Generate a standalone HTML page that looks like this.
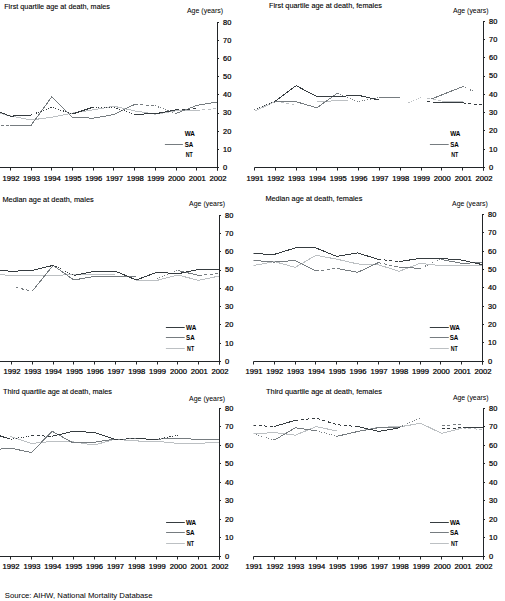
<!DOCTYPE html>
<html><head><meta charset="utf-8"><style>
html,body{margin:0;padding:0;background:#fff;}
svg{display:block;}
text{font-family:"Liberation Sans", sans-serif;}
</style></head><body>
<svg width="505" height="601" viewBox="0 0 505 601">
<defs><clipPath id="clip0"><rect x="0" y="12.399999999999999" width="217.5" height="155.1"/></clipPath><clipPath id="clip1"><rect x="254.5" y="11.399999999999999" width="229.0" height="156.1"/></clipPath><clipPath id="clip2"><rect x="0" y="205.3" width="219.5" height="156.2"/></clipPath><clipPath id="clip3"><rect x="253.5" y="204.6" width="229.0" height="156.70000000000002"/></clipPath><clipPath id="clip4"><rect x="0" y="398.4" width="219.5" height="158.0"/></clipPath><clipPath id="clip5"><rect x="253.5" y="398.3" width="230.0" height="157.99999999999994"/></clipPath></defs>
<rect width="505" height="601" fill="#fff"/>
<g clip-path="url(#clip0)">
<polyline points="-10.31,110.73 10.40,115.99 31.11,119.98 51.82,117.26 72.53,113.09 93.24,109.82 113.95,106.20 134.66,110.91 155.37,114.18 176.08,110.91 196.79,110.37" fill="none" stroke="#bcc0c3" stroke-width="1.0" shape-rendering="crispEdges"/>
<polyline points="196.79,110.37 217.50,108.55" fill="none" stroke="#bcc0c3" stroke-width="1.0" stroke-dasharray="3 2.5" shape-rendering="crispEdges"/>
<polyline points="-10.31,125.24 10.40,125.24" fill="none" stroke="#767c80" stroke-width="1.0" stroke-dasharray="3 2.5" shape-rendering="crispEdges"/>
<polyline points="10.40,125.24 31.11,125.24 51.82,96.76 72.53,117.44 93.24,118.17 113.95,114.54 134.66,104.38" fill="none" stroke="#767c80" stroke-width="1.0" shape-rendering="crispEdges"/>
<polyline points="134.66,104.38 155.37,105.83" fill="none" stroke="#767c80" stroke-width="1.0" stroke-dasharray="3 2.5" shape-rendering="crispEdges"/>
<polyline points="155.37,105.83 176.08,113.45" fill="none" stroke="#767c80" stroke-width="1.0" stroke-dasharray="1 1.6" shape-rendering="crispEdges"/>
<polyline points="176.08,113.45 196.79,105.47 217.50,101.84" fill="none" stroke="#767c80" stroke-width="1.0" shape-rendering="crispEdges"/>
<polyline points="-10.31,108.37 10.40,116.17 31.11,115.08" fill="none" stroke="#363c40" stroke-width="1.0" shape-rendering="crispEdges"/>
<polyline points="31.11,115.08 51.82,107.10 72.53,113.99" fill="none" stroke="#363c40" stroke-width="1.0" stroke-dasharray="1 1.6" shape-rendering="crispEdges"/>
<polyline points="72.53,113.99 93.24,107.10" fill="none" stroke="#363c40" stroke-width="1.0" shape-rendering="crispEdges"/>
<polyline points="93.24,107.10 113.95,107.65 134.66,114.18" fill="none" stroke="#363c40" stroke-width="1.0" stroke-dasharray="1 1.6" shape-rendering="crispEdges"/>
<polyline points="134.66,114.18 155.37,113.81 176.08,109.82" fill="none" stroke="#363c40" stroke-width="1.0" shape-rendering="crispEdges"/>
<polyline points="176.08,109.82 196.79,108.73" fill="none" stroke="#363c40" stroke-width="1.0" stroke-dasharray="3 2.5" shape-rendering="crispEdges"/>
</g>
<path d="M0.0,167.5 H217.5 M217.5,22.0 V170.5" stroke="#222528" stroke-width="1" fill="none"/>
<path d="M217.5,167.5 H219.0" stroke="#222528" stroke-width="1"/>
<path d="M217.5,149.5 H219.0" stroke="#222528" stroke-width="1"/>
<path d="M217.5,131.5 H219.0" stroke="#222528" stroke-width="1"/>
<path d="M217.5,113.5 H219.0" stroke="#222528" stroke-width="1"/>
<path d="M217.5,94.5 H219.0" stroke="#222528" stroke-width="1"/>
<path d="M217.5,76.5 H219.0" stroke="#222528" stroke-width="1"/>
<path d="M217.5,58.5 H219.0" stroke="#222528" stroke-width="1"/>
<path d="M217.5,40.5 H219.0" stroke="#222528" stroke-width="1"/>
<path d="M217.5,22.5 H219.0" stroke="#222528" stroke-width="1"/>
<path d="M10.5,167.5 V170.5" stroke="#222528" stroke-width="1"/>
<path d="M31.5,167.5 V170.5" stroke="#222528" stroke-width="1"/>
<path d="M51.5,167.5 V170.5" stroke="#222528" stroke-width="1"/>
<path d="M72.5,167.5 V170.5" stroke="#222528" stroke-width="1"/>
<path d="M93.5,167.5 V170.5" stroke="#222528" stroke-width="1"/>
<path d="M113.5,167.5 V170.5" stroke="#222528" stroke-width="1"/>
<path d="M134.5,167.5 V170.5" stroke="#222528" stroke-width="1"/>
<path d="M155.5,167.5 V170.5" stroke="#222528" stroke-width="1"/>
<path d="M176.5,167.5 V170.5" stroke="#222528" stroke-width="1"/>
<path d="M196.5,167.5 V170.5" stroke="#222528" stroke-width="1"/>
<path d="M217.5,167.5 V170.5" stroke="#222528" stroke-width="1"/>
<text x="223.10" y="169.80" font-size="7.0" font-weight="normal" fill="#000" stroke="#000" stroke-width="0.22" textLength="4.20" lengthAdjust="spacingAndGlyphs">0</text>
<text x="223.10" y="151.66" font-size="7.0" font-weight="normal" fill="#000" stroke="#000" stroke-width="0.22" textLength="8.20" lengthAdjust="spacingAndGlyphs">10</text>
<text x="223.10" y="133.53" font-size="7.0" font-weight="normal" fill="#000" stroke="#000" stroke-width="0.22" textLength="8.20" lengthAdjust="spacingAndGlyphs">20</text>
<text x="223.10" y="115.39" font-size="7.0" font-weight="normal" fill="#000" stroke="#000" stroke-width="0.22" textLength="8.20" lengthAdjust="spacingAndGlyphs">30</text>
<text x="223.10" y="97.25" font-size="7.0" font-weight="normal" fill="#000" stroke="#000" stroke-width="0.22" textLength="8.20" lengthAdjust="spacingAndGlyphs">40</text>
<text x="223.10" y="79.11" font-size="7.0" font-weight="normal" fill="#000" stroke="#000" stroke-width="0.22" textLength="8.20" lengthAdjust="spacingAndGlyphs">50</text>
<text x="223.10" y="60.97" font-size="7.0" font-weight="normal" fill="#000" stroke="#000" stroke-width="0.22" textLength="8.20" lengthAdjust="spacingAndGlyphs">60</text>
<text x="223.10" y="42.84" font-size="7.0" font-weight="normal" fill="#000" stroke="#000" stroke-width="0.22" textLength="8.20" lengthAdjust="spacingAndGlyphs">70</text>
<text x="223.10" y="24.70" font-size="7.0" font-weight="normal" fill="#000" stroke="#000" stroke-width="0.22" textLength="8.20" lengthAdjust="spacingAndGlyphs">80</text>
<text x="2.40" y="180.70" font-size="7.0" font-weight="normal" fill="#000" stroke="#000" stroke-width="0.22" textLength="17.00" lengthAdjust="spacingAndGlyphs">1992</text>
<text x="23.11" y="180.70" font-size="7.0" font-weight="normal" fill="#000" stroke="#000" stroke-width="0.22" textLength="17.00" lengthAdjust="spacingAndGlyphs">1993</text>
<text x="43.82" y="180.70" font-size="7.0" font-weight="normal" fill="#000" stroke="#000" stroke-width="0.22" textLength="17.00" lengthAdjust="spacingAndGlyphs">1994</text>
<text x="64.53" y="180.70" font-size="7.0" font-weight="normal" fill="#000" stroke="#000" stroke-width="0.22" textLength="17.00" lengthAdjust="spacingAndGlyphs">1995</text>
<text x="85.24" y="180.70" font-size="7.0" font-weight="normal" fill="#000" stroke="#000" stroke-width="0.22" textLength="17.00" lengthAdjust="spacingAndGlyphs">1996</text>
<text x="105.95" y="180.70" font-size="7.0" font-weight="normal" fill="#000" stroke="#000" stroke-width="0.22" textLength="17.00" lengthAdjust="spacingAndGlyphs">1997</text>
<text x="126.66" y="180.70" font-size="7.0" font-weight="normal" fill="#000" stroke="#000" stroke-width="0.22" textLength="17.00" lengthAdjust="spacingAndGlyphs">1998</text>
<text x="147.37" y="180.70" font-size="7.0" font-weight="normal" fill="#000" stroke="#000" stroke-width="0.22" textLength="17.00" lengthAdjust="spacingAndGlyphs">1999</text>
<text x="168.08" y="180.70" font-size="7.0" font-weight="normal" fill="#000" stroke="#000" stroke-width="0.22" textLength="17.00" lengthAdjust="spacingAndGlyphs">2000</text>
<text x="188.79" y="180.70" font-size="7.0" font-weight="normal" fill="#000" stroke="#000" stroke-width="0.22" textLength="17.00" lengthAdjust="spacingAndGlyphs">2001</text>
<text x="209.50" y="180.70" font-size="7.0" font-weight="normal" fill="#000" stroke="#000" stroke-width="0.22" textLength="17.00" lengthAdjust="spacingAndGlyphs">2002</text>
<text x="186.90" y="13.40" font-size="6.8" font-weight="normal" fill="#000" textLength="36.20" lengthAdjust="spacingAndGlyphs">Age (years)</text>
<text x="4.20" y="8.90" font-size="7.0" font-weight="normal" fill="#000" stroke="#000" stroke-width="0.1" textLength="105.80" lengthAdjust="spacingAndGlyphs">First quartile age at death, males</text>
<text x="184.70" y="136.10" font-size="7.0" font-weight="bold" fill="#000" textLength="10.20" lengthAdjust="spacingAndGlyphs">WA</text>
<path d="M164.9,144.5 H182.9" stroke="#767c80" stroke-width="1"/>
<text x="184.70" y="146.80" font-size="7.0" font-weight="bold" fill="#000" textLength="8.60" lengthAdjust="spacingAndGlyphs">SA</text>
<text x="185.70" y="156.80" font-size="7.0" font-weight="bold" fill="#000" textLength="7.00" lengthAdjust="spacingAndGlyphs">NT</text>
<g clip-path="url(#clip1)">
<polyline points="254.50,111.25 275.32,101.39" fill="none" stroke="#bcc0c3" stroke-width="1.0" shape-rendering="crispEdges"/>
<polyline points="275.32,101.39 296.14,105.41" fill="none" stroke="#bcc0c3" stroke-width="1.0" stroke-dasharray="3 2.5" shape-rendering="crispEdges"/>
<polyline points="316.95,101.75 337.77,100.66 348.18,100.66" fill="none" stroke="#bcc0c3" stroke-width="1.0" shape-rendering="crispEdges"/>
<polyline points="408.55,102.67 421.05,97.74" fill="none" stroke="#bcc0c3" stroke-width="1.0" stroke-dasharray="1 1.6" shape-rendering="crispEdges"/>
<polyline points="427.29,98.10 441.86,101.02" fill="none" stroke="#bcc0c3" stroke-width="1.0" stroke-dasharray="3 2.5" shape-rendering="crispEdges"/>
<polyline points="441.86,101.02 462.68,101.02" fill="none" stroke="#bcc0c3" stroke-width="1.0" shape-rendering="crispEdges"/>
<polyline points="254.50,109.79 275.32,101.75" fill="none" stroke="#767c80" stroke-width="1.0" stroke-dasharray="1 1.6" shape-rendering="crispEdges"/>
<polyline points="275.32,101.75 296.14,101.75 316.95,107.78 337.77,92.99" fill="none" stroke="#767c80" stroke-width="1.0" shape-rendering="crispEdges"/>
<polyline points="337.77,92.99 358.59,101.75 379.41,97.37" fill="none" stroke="#767c80" stroke-width="1.0" stroke-dasharray="1 1.6" shape-rendering="crispEdges"/>
<polyline points="379.41,97.37 400.23,97.01" fill="none" stroke="#767c80" stroke-width="1.0" shape-rendering="crispEdges"/>
<polyline points="431.45,99.02 462.68,86.60" fill="none" stroke="#767c80" stroke-width="1.0" shape-rendering="crispEdges"/>
<polyline points="462.68,86.60 477.25,92.99" fill="none" stroke="#767c80" stroke-width="1.0" stroke-dasharray="1 1.6" shape-rendering="crispEdges"/>
<polyline points="254.50,109.79 275.32,101.02" fill="none" stroke="#363c40" stroke-width="1.0" stroke-dasharray="1 1.6" shape-rendering="crispEdges"/>
<polyline points="275.32,101.02 296.14,85.68 316.95,96.64 337.77,96.46 358.59,95.36 379.41,100.11" fill="none" stroke="#363c40" stroke-width="1.0" shape-rendering="crispEdges"/>
<polyline points="427.29,101.02 433.54,102.85" fill="none" stroke="#363c40" stroke-width="1.0" stroke-dasharray="3 2.5" shape-rendering="crispEdges"/>
<polyline points="433.54,102.85 462.68,102.85" fill="none" stroke="#363c40" stroke-width="1.0" shape-rendering="crispEdges"/>
<polyline points="462.68,102.85 483.50,105.04" fill="none" stroke="#363c40" stroke-width="1.0" stroke-dasharray="3 2.5" shape-rendering="crispEdges"/>
</g>
<path d="M254.5,167.5 H483.5 M483.5,21.0 V170.5" stroke="#222528" stroke-width="1" fill="none"/>
<path d="M483.5,167.5 H485.0" stroke="#222528" stroke-width="1"/>
<path d="M483.5,149.5 H485.0" stroke="#222528" stroke-width="1"/>
<path d="M483.5,130.5 H485.0" stroke="#222528" stroke-width="1"/>
<path d="M483.5,112.5 H485.0" stroke="#222528" stroke-width="1"/>
<path d="M483.5,94.5 H485.0" stroke="#222528" stroke-width="1"/>
<path d="M483.5,76.5 H485.0" stroke="#222528" stroke-width="1"/>
<path d="M483.5,57.5 H485.0" stroke="#222528" stroke-width="1"/>
<path d="M483.5,39.5 H485.0" stroke="#222528" stroke-width="1"/>
<path d="M483.5,21.5 H485.0" stroke="#222528" stroke-width="1"/>
<path d="M254.5,167.5 V170.5" stroke="#222528" stroke-width="1"/>
<path d="M275.5,167.5 V170.5" stroke="#222528" stroke-width="1"/>
<path d="M296.5,167.5 V170.5" stroke="#222528" stroke-width="1"/>
<path d="M316.5,167.5 V170.5" stroke="#222528" stroke-width="1"/>
<path d="M337.5,167.5 V170.5" stroke="#222528" stroke-width="1"/>
<path d="M358.5,167.5 V170.5" stroke="#222528" stroke-width="1"/>
<path d="M379.5,167.5 V170.5" stroke="#222528" stroke-width="1"/>
<path d="M400.5,167.5 V170.5" stroke="#222528" stroke-width="1"/>
<path d="M421.5,167.5 V170.5" stroke="#222528" stroke-width="1"/>
<path d="M441.5,167.5 V170.5" stroke="#222528" stroke-width="1"/>
<path d="M462.5,167.5 V170.5" stroke="#222528" stroke-width="1"/>
<path d="M483.5,167.5 V170.5" stroke="#222528" stroke-width="1"/>
<text x="489.10" y="169.80" font-size="7.0" font-weight="normal" fill="#000" stroke="#000" stroke-width="0.22" textLength="4.20" lengthAdjust="spacingAndGlyphs">0</text>
<text x="489.10" y="151.54" font-size="7.0" font-weight="normal" fill="#000" stroke="#000" stroke-width="0.22" textLength="8.20" lengthAdjust="spacingAndGlyphs">10</text>
<text x="489.10" y="133.28" font-size="7.0" font-weight="normal" fill="#000" stroke="#000" stroke-width="0.22" textLength="8.20" lengthAdjust="spacingAndGlyphs">20</text>
<text x="489.10" y="115.01" font-size="7.0" font-weight="normal" fill="#000" stroke="#000" stroke-width="0.22" textLength="8.20" lengthAdjust="spacingAndGlyphs">30</text>
<text x="489.10" y="96.75" font-size="7.0" font-weight="normal" fill="#000" stroke="#000" stroke-width="0.22" textLength="8.20" lengthAdjust="spacingAndGlyphs">40</text>
<text x="489.10" y="78.49" font-size="7.0" font-weight="normal" fill="#000" stroke="#000" stroke-width="0.22" textLength="8.20" lengthAdjust="spacingAndGlyphs">50</text>
<text x="489.10" y="60.23" font-size="7.0" font-weight="normal" fill="#000" stroke="#000" stroke-width="0.22" textLength="8.20" lengthAdjust="spacingAndGlyphs">60</text>
<text x="489.10" y="41.96" font-size="7.0" font-weight="normal" fill="#000" stroke="#000" stroke-width="0.22" textLength="8.20" lengthAdjust="spacingAndGlyphs">70</text>
<text x="489.10" y="23.70" font-size="7.0" font-weight="normal" fill="#000" stroke="#000" stroke-width="0.22" textLength="8.20" lengthAdjust="spacingAndGlyphs">80</text>
<text x="246.50" y="180.70" font-size="7.0" font-weight="normal" fill="#000" stroke="#000" stroke-width="0.22" textLength="17.00" lengthAdjust="spacingAndGlyphs">1991</text>
<text x="267.32" y="180.70" font-size="7.0" font-weight="normal" fill="#000" stroke="#000" stroke-width="0.22" textLength="17.00" lengthAdjust="spacingAndGlyphs">1992</text>
<text x="288.14" y="180.70" font-size="7.0" font-weight="normal" fill="#000" stroke="#000" stroke-width="0.22" textLength="17.00" lengthAdjust="spacingAndGlyphs">1993</text>
<text x="308.95" y="180.70" font-size="7.0" font-weight="normal" fill="#000" stroke="#000" stroke-width="0.22" textLength="17.00" lengthAdjust="spacingAndGlyphs">1994</text>
<text x="329.77" y="180.70" font-size="7.0" font-weight="normal" fill="#000" stroke="#000" stroke-width="0.22" textLength="17.00" lengthAdjust="spacingAndGlyphs">1995</text>
<text x="350.59" y="180.70" font-size="7.0" font-weight="normal" fill="#000" stroke="#000" stroke-width="0.22" textLength="17.00" lengthAdjust="spacingAndGlyphs">1996</text>
<text x="371.41" y="180.70" font-size="7.0" font-weight="normal" fill="#000" stroke="#000" stroke-width="0.22" textLength="17.00" lengthAdjust="spacingAndGlyphs">1997</text>
<text x="392.23" y="180.70" font-size="7.0" font-weight="normal" fill="#000" stroke="#000" stroke-width="0.22" textLength="17.00" lengthAdjust="spacingAndGlyphs">1998</text>
<text x="413.05" y="180.70" font-size="7.0" font-weight="normal" fill="#000" stroke="#000" stroke-width="0.22" textLength="17.00" lengthAdjust="spacingAndGlyphs">1999</text>
<text x="433.86" y="180.70" font-size="7.0" font-weight="normal" fill="#000" stroke="#000" stroke-width="0.22" textLength="17.00" lengthAdjust="spacingAndGlyphs">2000</text>
<text x="454.68" y="180.70" font-size="7.0" font-weight="normal" fill="#000" stroke="#000" stroke-width="0.22" textLength="17.00" lengthAdjust="spacingAndGlyphs">2001</text>
<text x="475.50" y="180.70" font-size="7.0" font-weight="normal" fill="#000" stroke="#000" stroke-width="0.22" textLength="17.00" lengthAdjust="spacingAndGlyphs">2002</text>
<text x="452.90" y="12.90" font-size="6.8" font-weight="normal" fill="#000" textLength="35.70" lengthAdjust="spacingAndGlyphs">Age (years)</text>
<text x="269.00" y="8.20" font-size="7.0" font-weight="normal" fill="#000" stroke="#000" stroke-width="0.1" textLength="113.00" lengthAdjust="spacingAndGlyphs">First quartile age at death, females</text>
<text x="450.20" y="136.10" font-size="7.0" font-weight="bold" fill="#000" textLength="10.20" lengthAdjust="spacingAndGlyphs">WA</text>
<path d="M429.9,144.5 H448.7" stroke="#767c80" stroke-width="1"/>
<text x="450.20" y="146.80" font-size="7.0" font-weight="bold" fill="#000" textLength="8.60" lengthAdjust="spacingAndGlyphs">SA</text>
<text x="451.20" y="156.90" font-size="7.0" font-weight="bold" fill="#000" textLength="7.00" lengthAdjust="spacingAndGlyphs">NT</text>
<g clip-path="url(#clip2)">
<polyline points="-9.30,272.87 11.50,275.97 32.30,275.79 53.10,275.61 73.90,274.33 94.70,274.88 115.50,274.33" fill="none" stroke="#bcc0c3" stroke-width="1.0" shape-rendering="crispEdges"/>
<polyline points="136.30,280.36 157.10,280.36 177.90,275.06 198.70,280.36 219.50,275.97" fill="none" stroke="#bcc0c3" stroke-width="1.0" shape-rendering="crispEdges"/>
<polyline points="15.66,287.49 32.30,291.14" fill="none" stroke="#767c80" stroke-width="1.0" stroke-dasharray="3 2.5" shape-rendering="crispEdges"/>
<polyline points="32.30,291.14 53.10,265.37 73.90,279.99 94.70,276.34 115.50,276.16 136.30,276.16" fill="none" stroke="#767c80" stroke-width="1.0" shape-rendering="crispEdges"/>
<polyline points="157.10,278.90 177.90,270.49" fill="none" stroke="#767c80" stroke-width="1.0" stroke-dasharray="1 1.6" shape-rendering="crispEdges"/>
<polyline points="177.90,270.49 198.70,275.42" fill="none" stroke="#767c80" stroke-width="1.0" shape-rendering="crispEdges"/>
<polyline points="198.70,275.42 219.50,273.60" fill="none" stroke="#767c80" stroke-width="1.0" stroke-dasharray="3 2.5" shape-rendering="crispEdges"/>
<polyline points="-9.30,269.94 11.50,271.22 32.30,270.49 53.10,265.37" fill="none" stroke="#363c40" stroke-width="1.0" shape-rendering="crispEdges"/>
<polyline points="53.10,265.37 73.90,275.42" fill="none" stroke="#363c40" stroke-width="1.0" stroke-dasharray="1 1.6" shape-rendering="crispEdges"/>
<polyline points="73.90,275.42 94.70,271.22 115.50,271.22 136.30,279.99 157.10,272.14 177.90,273.78 198.70,269.39 219.50,269.39" fill="none" stroke="#363c40" stroke-width="1.0" shape-rendering="crispEdges"/>
</g>
<path d="M0.0,361.5 H219.5 M219.5,215.0 V364.5" stroke="#222528" stroke-width="1" fill="none"/>
<path d="M219.5,361.5 H221.0" stroke="#222528" stroke-width="1"/>
<path d="M219.5,343.5 H221.0" stroke="#222528" stroke-width="1"/>
<path d="M219.5,324.5 H221.0" stroke="#222528" stroke-width="1"/>
<path d="M219.5,306.5 H221.0" stroke="#222528" stroke-width="1"/>
<path d="M219.5,288.5 H221.0" stroke="#222528" stroke-width="1"/>
<path d="M219.5,270.5 H221.0" stroke="#222528" stroke-width="1"/>
<path d="M219.5,251.5 H221.0" stroke="#222528" stroke-width="1"/>
<path d="M219.5,233.5 H221.0" stroke="#222528" stroke-width="1"/>
<path d="M219.5,215.5 H221.0" stroke="#222528" stroke-width="1"/>
<path d="M11.5,361.5 V364.5" stroke="#222528" stroke-width="1"/>
<path d="M32.5,361.5 V364.5" stroke="#222528" stroke-width="1"/>
<path d="M53.5,361.5 V364.5" stroke="#222528" stroke-width="1"/>
<path d="M73.5,361.5 V364.5" stroke="#222528" stroke-width="1"/>
<path d="M94.5,361.5 V364.5" stroke="#222528" stroke-width="1"/>
<path d="M115.5,361.5 V364.5" stroke="#222528" stroke-width="1"/>
<path d="M136.5,361.5 V364.5" stroke="#222528" stroke-width="1"/>
<path d="M157.5,361.5 V364.5" stroke="#222528" stroke-width="1"/>
<path d="M177.5,361.5 V364.5" stroke="#222528" stroke-width="1"/>
<path d="M198.5,361.5 V364.5" stroke="#222528" stroke-width="1"/>
<path d="M219.5,361.5 V364.5" stroke="#222528" stroke-width="1"/>
<text x="225.10" y="363.80" font-size="7.0" font-weight="normal" fill="#000" stroke="#000" stroke-width="0.22" textLength="4.20" lengthAdjust="spacingAndGlyphs">0</text>
<text x="225.10" y="345.53" font-size="7.0" font-weight="normal" fill="#000" stroke="#000" stroke-width="0.22" textLength="8.20" lengthAdjust="spacingAndGlyphs">10</text>
<text x="225.10" y="327.25" font-size="7.0" font-weight="normal" fill="#000" stroke="#000" stroke-width="0.22" textLength="8.20" lengthAdjust="spacingAndGlyphs">20</text>
<text x="225.10" y="308.98" font-size="7.0" font-weight="normal" fill="#000" stroke="#000" stroke-width="0.22" textLength="8.20" lengthAdjust="spacingAndGlyphs">30</text>
<text x="225.10" y="290.70" font-size="7.0" font-weight="normal" fill="#000" stroke="#000" stroke-width="0.22" textLength="8.20" lengthAdjust="spacingAndGlyphs">40</text>
<text x="225.10" y="272.43" font-size="7.0" font-weight="normal" fill="#000" stroke="#000" stroke-width="0.22" textLength="8.20" lengthAdjust="spacingAndGlyphs">50</text>
<text x="225.10" y="254.15" font-size="7.0" font-weight="normal" fill="#000" stroke="#000" stroke-width="0.22" textLength="8.20" lengthAdjust="spacingAndGlyphs">60</text>
<text x="225.10" y="235.88" font-size="7.0" font-weight="normal" fill="#000" stroke="#000" stroke-width="0.22" textLength="8.20" lengthAdjust="spacingAndGlyphs">70</text>
<text x="225.10" y="217.60" font-size="7.0" font-weight="normal" fill="#000" stroke="#000" stroke-width="0.22" textLength="8.20" lengthAdjust="spacingAndGlyphs">80</text>
<text x="3.50" y="374.00" font-size="7.0" font-weight="normal" fill="#000" stroke="#000" stroke-width="0.22" textLength="17.00" lengthAdjust="spacingAndGlyphs">1992</text>
<text x="24.30" y="374.00" font-size="7.0" font-weight="normal" fill="#000" stroke="#000" stroke-width="0.22" textLength="17.00" lengthAdjust="spacingAndGlyphs">1993</text>
<text x="45.10" y="374.00" font-size="7.0" font-weight="normal" fill="#000" stroke="#000" stroke-width="0.22" textLength="17.00" lengthAdjust="spacingAndGlyphs">1994</text>
<text x="65.90" y="374.00" font-size="7.0" font-weight="normal" fill="#000" stroke="#000" stroke-width="0.22" textLength="17.00" lengthAdjust="spacingAndGlyphs">1995</text>
<text x="86.70" y="374.00" font-size="7.0" font-weight="normal" fill="#000" stroke="#000" stroke-width="0.22" textLength="17.00" lengthAdjust="spacingAndGlyphs">1996</text>
<text x="107.50" y="374.00" font-size="7.0" font-weight="normal" fill="#000" stroke="#000" stroke-width="0.22" textLength="17.00" lengthAdjust="spacingAndGlyphs">1997</text>
<text x="128.30" y="374.00" font-size="7.0" font-weight="normal" fill="#000" stroke="#000" stroke-width="0.22" textLength="17.00" lengthAdjust="spacingAndGlyphs">1998</text>
<text x="149.10" y="374.00" font-size="7.0" font-weight="normal" fill="#000" stroke="#000" stroke-width="0.22" textLength="17.00" lengthAdjust="spacingAndGlyphs">1999</text>
<text x="169.90" y="374.00" font-size="7.0" font-weight="normal" fill="#000" stroke="#000" stroke-width="0.22" textLength="17.00" lengthAdjust="spacingAndGlyphs">2000</text>
<text x="190.70" y="374.00" font-size="7.0" font-weight="normal" fill="#000" stroke="#000" stroke-width="0.22" textLength="17.00" lengthAdjust="spacingAndGlyphs">2001</text>
<text x="211.50" y="374.00" font-size="7.0" font-weight="normal" fill="#000" stroke="#000" stroke-width="0.22" textLength="17.00" lengthAdjust="spacingAndGlyphs">2002</text>
<text x="189.10" y="205.90" font-size="6.8" font-weight="normal" fill="#000" textLength="35.90" lengthAdjust="spacingAndGlyphs">Age (years)</text>
<text x="2.40" y="201.90" font-size="7.0" font-weight="normal" fill="#000" stroke="#000" stroke-width="0.1" textLength="91.30" lengthAdjust="spacingAndGlyphs">Median age at death, males</text>
<path d="M165.9,327.5 H184.7" stroke="#363c40" stroke-width="1"/>
<text x="186.10" y="330.00" font-size="7.0" font-weight="bold" fill="#000" textLength="10.20" lengthAdjust="spacingAndGlyphs">WA</text>
<path d="M165.9,337.5 H184.7" stroke="#767c80" stroke-width="1"/>
<text x="186.10" y="339.90" font-size="7.0" font-weight="bold" fill="#000" textLength="8.60" lengthAdjust="spacingAndGlyphs">SA</text>
<path d="M165.9,348.5 H184.7" stroke="#bcc0c3" stroke-width="1"/>
<text x="187.10" y="350.90" font-size="7.0" font-weight="bold" fill="#000" textLength="7.00" lengthAdjust="spacingAndGlyphs">NT</text>
<g clip-path="url(#clip3)">
<polyline points="253.50,265.58 274.32,261.54 295.14,267.41 315.95,255.31 336.77,259.16 357.59,263.93 378.41,264.84 399.23,271.26 420.05,263.38 440.86,265.58 461.68,265.58 482.50,265.58" fill="none" stroke="#bcc0c3" stroke-width="1.0" shape-rendering="crispEdges"/>
<polyline points="253.50,260.44 274.32,262.09 295.14,260.44 315.95,271.08" fill="none" stroke="#767c80" stroke-width="1.0" shape-rendering="crispEdges"/>
<polyline points="315.95,271.08 336.77,268.33" fill="none" stroke="#767c80" stroke-width="1.0" stroke-dasharray="3 2.5" shape-rendering="crispEdges"/>
<polyline points="336.77,268.33 357.59,272.36 378.41,262.64" fill="none" stroke="#767c80" stroke-width="1.0" shape-rendering="crispEdges"/>
<polyline points="378.41,262.64 399.23,267.23" fill="none" stroke="#767c80" stroke-width="1.0" stroke-dasharray="3 2.5" shape-rendering="crispEdges"/>
<polyline points="399.23,267.23 420.05,268.33" fill="none" stroke="#767c80" stroke-width="1.0" shape-rendering="crispEdges"/>
<polyline points="420.05,268.33 440.86,259.34" fill="none" stroke="#767c80" stroke-width="1.0" stroke-dasharray="1 1.6" shape-rendering="crispEdges"/>
<polyline points="440.86,259.34 461.68,263.38 482.50,262.46" fill="none" stroke="#767c80" stroke-width="1.0" shape-rendering="crispEdges"/>
<polyline points="253.50,253.66 274.32,254.39 295.14,247.97 315.95,247.97 336.77,256.41 357.59,252.93 378.41,259.34" fill="none" stroke="#363c40" stroke-width="1.0" shape-rendering="crispEdges"/>
<polyline points="378.41,259.34 399.23,261.54" fill="none" stroke="#363c40" stroke-width="1.0" stroke-dasharray="3 2.5" shape-rendering="crispEdges"/>
<polyline points="399.23,261.54 420.05,258.43 440.86,258.43 461.68,260.08 482.50,264.66" fill="none" stroke="#363c40" stroke-width="1.0" shape-rendering="crispEdges"/>
</g>
<path d="M253.5,361.5 H482.5 M482.5,214.0 V364.5" stroke="#222528" stroke-width="1" fill="none"/>
<path d="M482.5,361.5 H484.0" stroke="#222528" stroke-width="1"/>
<path d="M482.5,342.5 H484.0" stroke="#222528" stroke-width="1"/>
<path d="M482.5,324.5 H484.0" stroke="#222528" stroke-width="1"/>
<path d="M482.5,306.5 H484.0" stroke="#222528" stroke-width="1"/>
<path d="M482.5,287.5 H484.0" stroke="#222528" stroke-width="1"/>
<path d="M482.5,269.5 H484.0" stroke="#222528" stroke-width="1"/>
<path d="M482.5,251.5 H484.0" stroke="#222528" stroke-width="1"/>
<path d="M482.5,232.5 H484.0" stroke="#222528" stroke-width="1"/>
<path d="M482.5,214.5 H484.0" stroke="#222528" stroke-width="1"/>
<path d="M253.5,361.5 V364.5" stroke="#222528" stroke-width="1"/>
<path d="M274.5,361.5 V364.5" stroke="#222528" stroke-width="1"/>
<path d="M295.5,361.5 V364.5" stroke="#222528" stroke-width="1"/>
<path d="M315.5,361.5 V364.5" stroke="#222528" stroke-width="1"/>
<path d="M336.5,361.5 V364.5" stroke="#222528" stroke-width="1"/>
<path d="M357.5,361.5 V364.5" stroke="#222528" stroke-width="1"/>
<path d="M378.5,361.5 V364.5" stroke="#222528" stroke-width="1"/>
<path d="M399.5,361.5 V364.5" stroke="#222528" stroke-width="1"/>
<path d="M420.5,361.5 V364.5" stroke="#222528" stroke-width="1"/>
<path d="M440.5,361.5 V364.5" stroke="#222528" stroke-width="1"/>
<path d="M461.5,361.5 V364.5" stroke="#222528" stroke-width="1"/>
<path d="M482.5,361.5 V364.5" stroke="#222528" stroke-width="1"/>
<text x="488.10" y="363.60" font-size="7.0" font-weight="normal" fill="#000" stroke="#000" stroke-width="0.22" textLength="4.20" lengthAdjust="spacingAndGlyphs">0</text>
<text x="488.10" y="345.26" font-size="7.0" font-weight="normal" fill="#000" stroke="#000" stroke-width="0.22" textLength="8.20" lengthAdjust="spacingAndGlyphs">10</text>
<text x="488.10" y="326.93" font-size="7.0" font-weight="normal" fill="#000" stroke="#000" stroke-width="0.22" textLength="8.20" lengthAdjust="spacingAndGlyphs">20</text>
<text x="488.10" y="308.59" font-size="7.0" font-weight="normal" fill="#000" stroke="#000" stroke-width="0.22" textLength="8.20" lengthAdjust="spacingAndGlyphs">30</text>
<text x="488.10" y="290.25" font-size="7.0" font-weight="normal" fill="#000" stroke="#000" stroke-width="0.22" textLength="8.20" lengthAdjust="spacingAndGlyphs">40</text>
<text x="488.10" y="271.91" font-size="7.0" font-weight="normal" fill="#000" stroke="#000" stroke-width="0.22" textLength="8.20" lengthAdjust="spacingAndGlyphs">50</text>
<text x="488.10" y="253.58" font-size="7.0" font-weight="normal" fill="#000" stroke="#000" stroke-width="0.22" textLength="8.20" lengthAdjust="spacingAndGlyphs">60</text>
<text x="488.10" y="235.24" font-size="7.0" font-weight="normal" fill="#000" stroke="#000" stroke-width="0.22" textLength="8.20" lengthAdjust="spacingAndGlyphs">70</text>
<text x="488.10" y="216.90" font-size="7.0" font-weight="normal" fill="#000" stroke="#000" stroke-width="0.22" textLength="8.20" lengthAdjust="spacingAndGlyphs">80</text>
<text x="245.50" y="373.80" font-size="7.0" font-weight="normal" fill="#000" stroke="#000" stroke-width="0.22" textLength="17.00" lengthAdjust="spacingAndGlyphs">1991</text>
<text x="266.32" y="373.80" font-size="7.0" font-weight="normal" fill="#000" stroke="#000" stroke-width="0.22" textLength="17.00" lengthAdjust="spacingAndGlyphs">1992</text>
<text x="287.14" y="373.80" font-size="7.0" font-weight="normal" fill="#000" stroke="#000" stroke-width="0.22" textLength="17.00" lengthAdjust="spacingAndGlyphs">1993</text>
<text x="307.95" y="373.80" font-size="7.0" font-weight="normal" fill="#000" stroke="#000" stroke-width="0.22" textLength="17.00" lengthAdjust="spacingAndGlyphs">1994</text>
<text x="328.77" y="373.80" font-size="7.0" font-weight="normal" fill="#000" stroke="#000" stroke-width="0.22" textLength="17.00" lengthAdjust="spacingAndGlyphs">1995</text>
<text x="349.59" y="373.80" font-size="7.0" font-weight="normal" fill="#000" stroke="#000" stroke-width="0.22" textLength="17.00" lengthAdjust="spacingAndGlyphs">1996</text>
<text x="370.41" y="373.80" font-size="7.0" font-weight="normal" fill="#000" stroke="#000" stroke-width="0.22" textLength="17.00" lengthAdjust="spacingAndGlyphs">1997</text>
<text x="391.23" y="373.80" font-size="7.0" font-weight="normal" fill="#000" stroke="#000" stroke-width="0.22" textLength="17.00" lengthAdjust="spacingAndGlyphs">1998</text>
<text x="412.05" y="373.80" font-size="7.0" font-weight="normal" fill="#000" stroke="#000" stroke-width="0.22" textLength="17.00" lengthAdjust="spacingAndGlyphs">1999</text>
<text x="432.86" y="373.80" font-size="7.0" font-weight="normal" fill="#000" stroke="#000" stroke-width="0.22" textLength="17.00" lengthAdjust="spacingAndGlyphs">2000</text>
<text x="453.68" y="373.80" font-size="7.0" font-weight="normal" fill="#000" stroke="#000" stroke-width="0.22" textLength="17.00" lengthAdjust="spacingAndGlyphs">2001</text>
<text x="474.50" y="373.80" font-size="7.0" font-weight="normal" fill="#000" stroke="#000" stroke-width="0.22" textLength="17.00" lengthAdjust="spacingAndGlyphs">2002</text>
<text x="452.10" y="205.70" font-size="6.8" font-weight="normal" fill="#000" textLength="35.70" lengthAdjust="spacingAndGlyphs">Age (years)</text>
<text x="265.40" y="201.30" font-size="7.0" font-weight="normal" fill="#000" stroke="#000" stroke-width="0.1" textLength="97.00" lengthAdjust="spacingAndGlyphs">Median age at death, females</text>
<path d="M429.8,327.5 H448.8" stroke="#363c40" stroke-width="1"/>
<text x="449.70" y="330.00" font-size="7.0" font-weight="bold" fill="#000" textLength="10.20" lengthAdjust="spacingAndGlyphs">WA</text>
<path d="M429.8,337.5 H448.8" stroke="#767c80" stroke-width="1"/>
<text x="449.70" y="340.10" font-size="7.0" font-weight="bold" fill="#000" textLength="8.60" lengthAdjust="spacingAndGlyphs">SA</text>
<path d="M429.8,348.5 H448.8" stroke="#bcc0c3" stroke-width="1"/>
<text x="450.70" y="350.60" font-size="7.0" font-weight="bold" fill="#000" textLength="7.00" lengthAdjust="spacingAndGlyphs">NT</text>
<g clip-path="url(#clip4)">
<polyline points="10.50,436.52 31.40,443.55 52.30,441.33 73.20,441.88 94.10,445.03 115.00,439.29 135.90,440.96 156.80,441.33 177.70,443.36 198.60,443.36 219.50,442.25" fill="none" stroke="#bcc0c3" stroke-width="1.0" shape-rendering="crispEdges"/>
<polyline points="-10.40,450.02 10.50,448.17 31.40,452.43 52.30,431.34 73.20,443.00 94.10,442.25 115.00,439.11 135.90,438.92 156.80,439.11 177.70,438.55 198.60,439.29 219.50,439.29" fill="none" stroke="#767c80" stroke-width="1.0" shape-rendering="crispEdges"/>
<polyline points="-10.40,432.45 10.50,439.29" fill="none" stroke="#363c40" stroke-width="1.0" shape-rendering="crispEdges"/>
<polyline points="10.50,439.29 31.40,435.78" fill="none" stroke="#363c40" stroke-width="1.0" stroke-dasharray="1 1.6" shape-rendering="crispEdges"/>
<polyline points="31.40,435.78 52.30,436.15" fill="none" stroke="#363c40" stroke-width="1.0" stroke-dasharray="3 2.5" shape-rendering="crispEdges"/>
<polyline points="52.30,436.15 73.20,431.34 94.10,432.45 115.00,439.29" fill="none" stroke="#363c40" stroke-width="1.0" shape-rendering="crispEdges"/>
<polyline points="115.00,439.29 135.90,438.74" fill="none" stroke="#363c40" stroke-width="1.0" stroke-dasharray="3 2.5" shape-rendering="crispEdges"/>
<polyline points="135.90,438.74 156.80,439.29" fill="none" stroke="#363c40" stroke-width="1.0" shape-rendering="crispEdges"/>
<polyline points="156.80,439.29 177.70,435.41" fill="none" stroke="#363c40" stroke-width="1.0" stroke-dasharray="1 1.6" shape-rendering="crispEdges"/>
</g>
<path d="M0.0,556.5 H219.5 M219.5,408.0 V559.5" stroke="#222528" stroke-width="1" fill="none"/>
<path d="M219.5,556.5 H221.0" stroke="#222528" stroke-width="1"/>
<path d="M219.5,537.5 H221.0" stroke="#222528" stroke-width="1"/>
<path d="M219.5,519.5 H221.0" stroke="#222528" stroke-width="1"/>
<path d="M219.5,500.5 H221.0" stroke="#222528" stroke-width="1"/>
<path d="M219.5,482.5 H221.0" stroke="#222528" stroke-width="1"/>
<path d="M219.5,463.5 H221.0" stroke="#222528" stroke-width="1"/>
<path d="M219.5,445.5 H221.0" stroke="#222528" stroke-width="1"/>
<path d="M219.5,426.5 H221.0" stroke="#222528" stroke-width="1"/>
<path d="M219.5,408.5 H221.0" stroke="#222528" stroke-width="1"/>
<path d="M10.5,556.5 V559.5" stroke="#222528" stroke-width="1"/>
<path d="M31.5,556.5 V559.5" stroke="#222528" stroke-width="1"/>
<path d="M52.5,556.5 V559.5" stroke="#222528" stroke-width="1"/>
<path d="M73.5,556.5 V559.5" stroke="#222528" stroke-width="1"/>
<path d="M94.5,556.5 V559.5" stroke="#222528" stroke-width="1"/>
<path d="M115.5,556.5 V559.5" stroke="#222528" stroke-width="1"/>
<path d="M135.5,556.5 V559.5" stroke="#222528" stroke-width="1"/>
<path d="M156.5,556.5 V559.5" stroke="#222528" stroke-width="1"/>
<path d="M177.5,556.5 V559.5" stroke="#222528" stroke-width="1"/>
<path d="M198.5,556.5 V559.5" stroke="#222528" stroke-width="1"/>
<path d="M219.5,556.5 V559.5" stroke="#222528" stroke-width="1"/>
<text x="225.10" y="558.70" font-size="7.0" font-weight="normal" fill="#000" stroke="#000" stroke-width="0.22" textLength="4.20" lengthAdjust="spacingAndGlyphs">0</text>
<text x="225.10" y="540.20" font-size="7.0" font-weight="normal" fill="#000" stroke="#000" stroke-width="0.22" textLength="8.20" lengthAdjust="spacingAndGlyphs">10</text>
<text x="225.10" y="521.70" font-size="7.0" font-weight="normal" fill="#000" stroke="#000" stroke-width="0.22" textLength="8.20" lengthAdjust="spacingAndGlyphs">20</text>
<text x="225.10" y="503.20" font-size="7.0" font-weight="normal" fill="#000" stroke="#000" stroke-width="0.22" textLength="8.20" lengthAdjust="spacingAndGlyphs">30</text>
<text x="225.10" y="484.70" font-size="7.0" font-weight="normal" fill="#000" stroke="#000" stroke-width="0.22" textLength="8.20" lengthAdjust="spacingAndGlyphs">40</text>
<text x="225.10" y="466.20" font-size="7.0" font-weight="normal" fill="#000" stroke="#000" stroke-width="0.22" textLength="8.20" lengthAdjust="spacingAndGlyphs">50</text>
<text x="225.10" y="447.70" font-size="7.0" font-weight="normal" fill="#000" stroke="#000" stroke-width="0.22" textLength="8.20" lengthAdjust="spacingAndGlyphs">60</text>
<text x="225.10" y="429.20" font-size="7.0" font-weight="normal" fill="#000" stroke="#000" stroke-width="0.22" textLength="8.20" lengthAdjust="spacingAndGlyphs">70</text>
<text x="225.10" y="410.70" font-size="7.0" font-weight="normal" fill="#000" stroke="#000" stroke-width="0.22" textLength="8.20" lengthAdjust="spacingAndGlyphs">80</text>
<text x="2.50" y="568.70" font-size="7.0" font-weight="normal" fill="#000" stroke="#000" stroke-width="0.22" textLength="17.00" lengthAdjust="spacingAndGlyphs">1992</text>
<text x="23.40" y="568.70" font-size="7.0" font-weight="normal" fill="#000" stroke="#000" stroke-width="0.22" textLength="17.00" lengthAdjust="spacingAndGlyphs">1993</text>
<text x="44.30" y="568.70" font-size="7.0" font-weight="normal" fill="#000" stroke="#000" stroke-width="0.22" textLength="17.00" lengthAdjust="spacingAndGlyphs">1994</text>
<text x="65.20" y="568.70" font-size="7.0" font-weight="normal" fill="#000" stroke="#000" stroke-width="0.22" textLength="17.00" lengthAdjust="spacingAndGlyphs">1995</text>
<text x="86.10" y="568.70" font-size="7.0" font-weight="normal" fill="#000" stroke="#000" stroke-width="0.22" textLength="17.00" lengthAdjust="spacingAndGlyphs">1996</text>
<text x="107.00" y="568.70" font-size="7.0" font-weight="normal" fill="#000" stroke="#000" stroke-width="0.22" textLength="17.00" lengthAdjust="spacingAndGlyphs">1997</text>
<text x="127.90" y="568.70" font-size="7.0" font-weight="normal" fill="#000" stroke="#000" stroke-width="0.22" textLength="17.00" lengthAdjust="spacingAndGlyphs">1998</text>
<text x="148.80" y="568.70" font-size="7.0" font-weight="normal" fill="#000" stroke="#000" stroke-width="0.22" textLength="17.00" lengthAdjust="spacingAndGlyphs">1999</text>
<text x="169.70" y="568.70" font-size="7.0" font-weight="normal" fill="#000" stroke="#000" stroke-width="0.22" textLength="17.00" lengthAdjust="spacingAndGlyphs">2000</text>
<text x="190.60" y="568.70" font-size="7.0" font-weight="normal" fill="#000" stroke="#000" stroke-width="0.22" textLength="17.00" lengthAdjust="spacingAndGlyphs">2001</text>
<text x="211.50" y="568.70" font-size="7.0" font-weight="normal" fill="#000" stroke="#000" stroke-width="0.22" textLength="17.00" lengthAdjust="spacingAndGlyphs">2002</text>
<text x="189.10" y="400.70" font-size="6.8" font-weight="normal" fill="#000" textLength="35.90" lengthAdjust="spacingAndGlyphs">Age (years)</text>
<text x="3.00" y="394.40" font-size="7.0" font-weight="normal" fill="#000" stroke="#000" stroke-width="0.1" textLength="109.00" lengthAdjust="spacingAndGlyphs">Third quartile age at death, males</text>
<path d="M166.1,522.5 H184.8" stroke="#363c40" stroke-width="1"/>
<text x="185.90" y="524.90" font-size="7.0" font-weight="bold" fill="#000" textLength="10.20" lengthAdjust="spacingAndGlyphs">WA</text>
<path d="M166.1,532.5 H184.8" stroke="#767c80" stroke-width="1"/>
<text x="185.90" y="535.10" font-size="7.0" font-weight="bold" fill="#000" textLength="8.60" lengthAdjust="spacingAndGlyphs">SA</text>
<path d="M166.1,543.5 H184.8" stroke="#bcc0c3" stroke-width="1"/>
<text x="186.90" y="546.00" font-size="7.0" font-weight="bold" fill="#000" textLength="7.00" lengthAdjust="spacingAndGlyphs">NT</text>
<g clip-path="url(#clip5)">
<polyline points="253.50,433.83 274.41,432.53 295.32,435.12 316.23,426.62 337.14,431.06" fill="none" stroke="#bcc0c3" stroke-width="1.0" shape-rendering="crispEdges"/>
<polyline points="358.05,431.43 378.95,427.17 399.86,426.80 420.77,423.28 441.68,433.46 462.59,427.91" fill="none" stroke="#bcc0c3" stroke-width="1.0" shape-rendering="crispEdges"/>
<polyline points="462.59,427.91 483.50,429.57" fill="none" stroke="#bcc0c3" stroke-width="1.0" stroke-dasharray="3 2.5" shape-rendering="crispEdges"/>
<polyline points="253.50,433.83 274.41,440.12" fill="none" stroke="#767c80" stroke-width="1.0" stroke-dasharray="1 1.6" shape-rendering="crispEdges"/>
<polyline points="274.41,440.12 295.32,427.73 316.23,430.69" fill="none" stroke="#767c80" stroke-width="1.0" shape-rendering="crispEdges"/>
<polyline points="316.23,430.69 337.14,436.24" fill="none" stroke="#767c80" stroke-width="1.0" stroke-dasharray="1 1.6" shape-rendering="crispEdges"/>
<polyline points="337.14,436.24 358.05,431.43 378.95,427.54 399.86,427.17" fill="none" stroke="#767c80" stroke-width="1.0" shape-rendering="crispEdges"/>
<polyline points="399.86,427.17 420.77,417.92" fill="none" stroke="#767c80" stroke-width="1.0" stroke-dasharray="1 1.6" shape-rendering="crispEdges"/>
<polyline points="441.68,425.88 462.59,424.02" fill="none" stroke="#767c80" stroke-width="1.0" stroke-dasharray="3 2.5" shape-rendering="crispEdges"/>
<polyline points="253.50,425.50 274.41,426.43" fill="none" stroke="#363c40" stroke-width="1.0" stroke-dasharray="3 2.5" shape-rendering="crispEdges"/>
<polyline points="274.41,426.43 295.32,420.33" fill="none" stroke="#363c40" stroke-width="1.0" shape-rendering="crispEdges"/>
<polyline points="295.32,420.33 316.23,418.11 337.14,424.76 358.05,426.62" fill="none" stroke="#363c40" stroke-width="1.0" stroke-dasharray="3 2.5" shape-rendering="crispEdges"/>
<polyline points="358.05,426.62 378.95,431.43 399.86,427.73" fill="none" stroke="#363c40" stroke-width="1.0" shape-rendering="crispEdges"/>
<polyline points="441.68,428.65 462.59,427.73" fill="none" stroke="#363c40" stroke-width="1.0" stroke-dasharray="3 2.5" shape-rendering="crispEdges"/>
<polyline points="462.59,427.73 483.50,427.73" fill="none" stroke="#363c40" stroke-width="1.0" shape-rendering="crispEdges"/>
</g>
<path d="M253.5,556.5 H483.5 M483.5,408.0 V559.5" stroke="#222528" stroke-width="1" fill="none"/>
<path d="M483.5,556.5 H485.0" stroke="#222528" stroke-width="1"/>
<path d="M483.5,537.5 H485.0" stroke="#222528" stroke-width="1"/>
<path d="M483.5,519.5 H485.0" stroke="#222528" stroke-width="1"/>
<path d="M483.5,500.5 H485.0" stroke="#222528" stroke-width="1"/>
<path d="M483.5,482.5 H485.0" stroke="#222528" stroke-width="1"/>
<path d="M483.5,463.5 H485.0" stroke="#222528" stroke-width="1"/>
<path d="M483.5,445.5 H485.0" stroke="#222528" stroke-width="1"/>
<path d="M483.5,426.5 H485.0" stroke="#222528" stroke-width="1"/>
<path d="M483.5,408.5 H485.0" stroke="#222528" stroke-width="1"/>
<path d="M253.5,556.5 V559.5" stroke="#222528" stroke-width="1"/>
<path d="M274.5,556.5 V559.5" stroke="#222528" stroke-width="1"/>
<path d="M295.5,556.5 V559.5" stroke="#222528" stroke-width="1"/>
<path d="M316.5,556.5 V559.5" stroke="#222528" stroke-width="1"/>
<path d="M337.5,556.5 V559.5" stroke="#222528" stroke-width="1"/>
<path d="M358.5,556.5 V559.5" stroke="#222528" stroke-width="1"/>
<path d="M378.5,556.5 V559.5" stroke="#222528" stroke-width="1"/>
<path d="M399.5,556.5 V559.5" stroke="#222528" stroke-width="1"/>
<path d="M420.5,556.5 V559.5" stroke="#222528" stroke-width="1"/>
<path d="M441.5,556.5 V559.5" stroke="#222528" stroke-width="1"/>
<path d="M462.5,556.5 V559.5" stroke="#222528" stroke-width="1"/>
<path d="M483.5,556.5 V559.5" stroke="#222528" stroke-width="1"/>
<text x="489.10" y="558.60" font-size="7.0" font-weight="normal" fill="#000" stroke="#000" stroke-width="0.22" textLength="4.20" lengthAdjust="spacingAndGlyphs">0</text>
<text x="489.10" y="540.10" font-size="7.0" font-weight="normal" fill="#000" stroke="#000" stroke-width="0.22" textLength="8.20" lengthAdjust="spacingAndGlyphs">10</text>
<text x="489.10" y="521.60" font-size="7.0" font-weight="normal" fill="#000" stroke="#000" stroke-width="0.22" textLength="8.20" lengthAdjust="spacingAndGlyphs">20</text>
<text x="489.10" y="503.10" font-size="7.0" font-weight="normal" fill="#000" stroke="#000" stroke-width="0.22" textLength="8.20" lengthAdjust="spacingAndGlyphs">30</text>
<text x="489.10" y="484.60" font-size="7.0" font-weight="normal" fill="#000" stroke="#000" stroke-width="0.22" textLength="8.20" lengthAdjust="spacingAndGlyphs">40</text>
<text x="489.10" y="466.10" font-size="7.0" font-weight="normal" fill="#000" stroke="#000" stroke-width="0.22" textLength="8.20" lengthAdjust="spacingAndGlyphs">50</text>
<text x="489.10" y="447.60" font-size="7.0" font-weight="normal" fill="#000" stroke="#000" stroke-width="0.22" textLength="8.20" lengthAdjust="spacingAndGlyphs">60</text>
<text x="489.10" y="429.10" font-size="7.0" font-weight="normal" fill="#000" stroke="#000" stroke-width="0.22" textLength="8.20" lengthAdjust="spacingAndGlyphs">70</text>
<text x="489.10" y="410.60" font-size="7.0" font-weight="normal" fill="#000" stroke="#000" stroke-width="0.22" textLength="8.20" lengthAdjust="spacingAndGlyphs">80</text>
<text x="245.50" y="568.60" font-size="7.0" font-weight="normal" fill="#000" stroke="#000" stroke-width="0.22" textLength="17.00" lengthAdjust="spacingAndGlyphs">1991</text>
<text x="266.41" y="568.60" font-size="7.0" font-weight="normal" fill="#000" stroke="#000" stroke-width="0.22" textLength="17.00" lengthAdjust="spacingAndGlyphs">1992</text>
<text x="287.32" y="568.60" font-size="7.0" font-weight="normal" fill="#000" stroke="#000" stroke-width="0.22" textLength="17.00" lengthAdjust="spacingAndGlyphs">1993</text>
<text x="308.23" y="568.60" font-size="7.0" font-weight="normal" fill="#000" stroke="#000" stroke-width="0.22" textLength="17.00" lengthAdjust="spacingAndGlyphs">1994</text>
<text x="329.14" y="568.60" font-size="7.0" font-weight="normal" fill="#000" stroke="#000" stroke-width="0.22" textLength="17.00" lengthAdjust="spacingAndGlyphs">1995</text>
<text x="350.05" y="568.60" font-size="7.0" font-weight="normal" fill="#000" stroke="#000" stroke-width="0.22" textLength="17.00" lengthAdjust="spacingAndGlyphs">1996</text>
<text x="370.95" y="568.60" font-size="7.0" font-weight="normal" fill="#000" stroke="#000" stroke-width="0.22" textLength="17.00" lengthAdjust="spacingAndGlyphs">1997</text>
<text x="391.86" y="568.60" font-size="7.0" font-weight="normal" fill="#000" stroke="#000" stroke-width="0.22" textLength="17.00" lengthAdjust="spacingAndGlyphs">1998</text>
<text x="412.77" y="568.60" font-size="7.0" font-weight="normal" fill="#000" stroke="#000" stroke-width="0.22" textLength="17.00" lengthAdjust="spacingAndGlyphs">1999</text>
<text x="433.68" y="568.60" font-size="7.0" font-weight="normal" fill="#000" stroke="#000" stroke-width="0.22" textLength="17.00" lengthAdjust="spacingAndGlyphs">2000</text>
<text x="454.59" y="568.60" font-size="7.0" font-weight="normal" fill="#000" stroke="#000" stroke-width="0.22" textLength="17.00" lengthAdjust="spacingAndGlyphs">2001</text>
<text x="475.50" y="568.60" font-size="7.0" font-weight="normal" fill="#000" stroke="#000" stroke-width="0.22" textLength="17.00" lengthAdjust="spacingAndGlyphs">2002</text>
<text x="452.90" y="399.90" font-size="6.8" font-weight="normal" fill="#000" textLength="35.70" lengthAdjust="spacingAndGlyphs">Age (years)</text>
<text x="266.10" y="393.90" font-size="7.0" font-weight="normal" fill="#000" stroke="#000" stroke-width="0.1" textLength="115.90" lengthAdjust="spacingAndGlyphs">Third quartile age at death, females</text>
<path d="M430.0,522.5 H448.8" stroke="#363c40" stroke-width="1"/>
<text x="450.00" y="524.90" font-size="7.0" font-weight="bold" fill="#000" textLength="10.20" lengthAdjust="spacingAndGlyphs">WA</text>
<path d="M430.0,532.5 H448.8" stroke="#767c80" stroke-width="1"/>
<text x="450.00" y="535.10" font-size="7.0" font-weight="bold" fill="#000" textLength="8.60" lengthAdjust="spacingAndGlyphs">SA</text>
<path d="M430.0,543.5 H448.8" stroke="#bcc0c3" stroke-width="1"/>
<text x="451.00" y="546.00" font-size="7.0" font-weight="bold" fill="#000" textLength="7.00" lengthAdjust="spacingAndGlyphs">NT</text>
<text x="4.75" y="597.7" font-size="7" fill="#000" textLength="147.8" lengthAdjust="spacingAndGlyphs">Source: AIHW, National Mortality Database</text>
</svg>
</body></html>
